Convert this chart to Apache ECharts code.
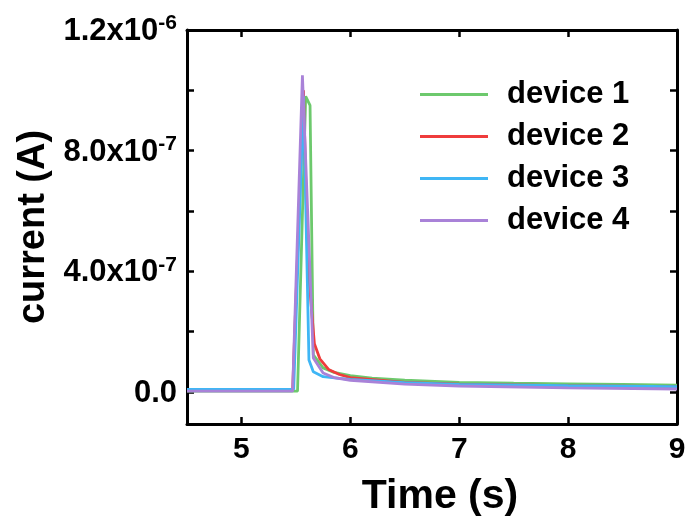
<!DOCTYPE html>
<html><head><meta charset="utf-8">
<script src="https://cdn.jsdelivr.net/npm/echarts@6/dist/echarts.min.js"></script>
<style>html,body{margin:0;padding:0;background:#fff}#c{width:689px;height:519px}</style>
</head><body><div id="c"></div>
<script>
const seriesNames = ['device 1', 'device 2', 'device 3', 'device 4'];
const seriesColors = ['#6dc96d', '#ef3c3c', '#3fb6f5', '#a982d8'];
const timeD1 = [4.5, 5.515, 5.59, 5.63, 5.66, 5.75, 5.85, 6.0, 6.2, 6.5, 7.0, 7.5, 8.0, 8.5, 9.0];
const curD1  = [3e-9, 3e-9, 9.8e-7, 9.5e-7, 1.23e-7, 8.0e-8, 6.5e-8, 5.4e-8, 4.6e-8, 3.9e-8, 3.2e-8, 2.9e-8, 2.7e-8, 2.5e-8, 2.3e-8];
const timeD2 = [4.5, 5.47, 5.57, 5.61, 5.67, 5.72, 5.8, 5.9, 6.0, 6.5, 7.0, 8.0, 9.0];
const curD2  = [5e-9, 5e-9, 1.0e-6, 4.2e-7, 1.6e-7, 1.1e-7, 7.5e-8, 5.8e-8, 4.8e-8, 3.2e-8, 2.6e-8, 2.1e-8, 1.8e-8];
const timeD3 = [4.5, 5.48, 5.57, 5.62, 5.66, 5.75, 5.9, 6.0, 6.5, 7.0, 8.0, 9.0];
const curD3  = [9e-9, 9e-9, 9.8e-7, 1.06e-7, 6.7e-8, 5.1e-8, 4.5e-8, 4.2e-8, 3.1e-8, 2.5e-8, 2.1e-8, 1.8e-8];
const timeD4 = [4.5, 5.47, 5.56, 5.66, 5.75, 5.85, 6.0, 6.5, 7.0, 8.0, 9.0];
const curD4  = [3e-9, 3e-9, 1.05e-6, 1.13e-7, 6.3e-8, 4.8e-8, 3.9e-8, 2.6e-8, 2.0e-8, 1.4e-8, 1.0e-8];
const xTicks = [5, 6, 7, 8, 9];
const yLabelTicks = [0, 4e-7, 8e-7, 1.2e-6];
const yAllTicks = [0, 2e-7, 4e-7, 6e-7, 8e-7, 1e-6, 1.2e-6];

const times = [timeD1, timeD2, timeD3, timeD4];
const curs = [curD1, curD2, curD3, curD4];
const FONT = 'Liberation Sans, Arial, sans-serif';

function fmtY(v) {
  if (Math.abs(v) < 1e-15) return '{a|0.0}';
  const parts = v.toExponential(1).split('e');
  return '{a|' + parts[0] + 'x10}{s|' + parseInt(parts[1], 10) + '}';
}

const axisLineStyle = { show: true, onZero: false, lineStyle: { color: '#000', width: 3 } };
const tickStyle = { show: true, inside: true, length: 7, lineStyle: { color: '#000', width: 2.5 } };

const chart = echarts.init(document.getElementById('c'), null, { renderer: 'canvas' });
chart.setOption({
  animation: false,
  backgroundColor: '#fff',
  grid: { left: 187, right: 12, top: 30, bottom: 95, containLabel: false, outerBoundsMode: 'none' },
  legend: {
    orient: 'vertical', left: 420, top: 79, padding: 0,
    icon: 'rect', itemWidth: 68, itemHeight: 3, itemGap: 11,
    data: seriesNames,
    textStyle: { fontFamily: FONT, fontWeight: 'bold', fontSize: 31, color: '#000', padding: [0, 0, 0, 14], lineHeight: 30 }
  },
  xAxis: [
    {
      type: 'value', min: 4.5, max: 9, position: 'bottom',
      name: 'Time (s)', nameLocation: 'middle', nameGap: 52,
      nameTextStyle: { fontFamily: FONT, fontWeight: 'bold', fontSize: 41, color: '#000', padding: [0, 0, 0, 16] },
      axisLine: axisLineStyle,
      axisTick: Object.assign({ customValues: xTicks }, tickStyle),
      axisLabel: { customValues: xTicks, fontFamily: FONT, fontWeight: 'bold', fontSize: 30, color: '#000', margin: 11 },
      splitLine: { show: false }
    },
    {
      type: 'value', min: 4.5, max: 9, position: 'top',
      axisLine: axisLineStyle,
      axisTick: Object.assign({ customValues: xTicks }, tickStyle),
      axisLabel: { show: false },
      splitLine: { show: false }
    }
  ],
  yAxis: [
    {
      type: 'value', min: -1.06e-7, max: 1.2e-6, position: 'left',
      name: 'current (A)', nameLocation: 'middle', nameGap: 128, nameRotate: 90,
      nameTextStyle: { fontFamily: FONT, fontWeight: 'bold', fontSize: 38, color: '#000' },
      axisLine: axisLineStyle,
      axisTick: Object.assign({ customValues: yAllTicks }, tickStyle),
      axisLabel: {
        customValues: yLabelTicks, margin: 10, formatter: fmtY,
        rich: {
          a: { fontFamily: FONT, fontWeight: 'bold', fontSize: 31, color: '#000', lineHeight: 34, verticalAlign: 'bottom' },
          s: { fontFamily: FONT, fontWeight: 'bold', fontSize: 21, color: '#000', lineHeight: 20, verticalAlign: 'top' }
        }
      },
      splitLine: { show: false }
    },
    {
      type: 'value', min: -1.06e-7, max: 1.2e-6, position: 'right',
      axisLine: axisLineStyle,
      axisTick: Object.assign({ customValues: yAllTicks }, tickStyle),
      axisLabel: { show: false },
      splitLine: { show: false }
    }
  ],
  series: seriesNames.map((n, i) => ({
    name: n, type: 'line', symbol: 'none', clip: true,
    xAxisIndex: 0, yAxisIndex: 0,
    color: seriesColors[i],
    lineStyle: { width: 2.8, color: seriesColors[i] },
    data: times[i].map((t, k) => [t, curs[i][k]])
  }))
});
</script></body></html>
